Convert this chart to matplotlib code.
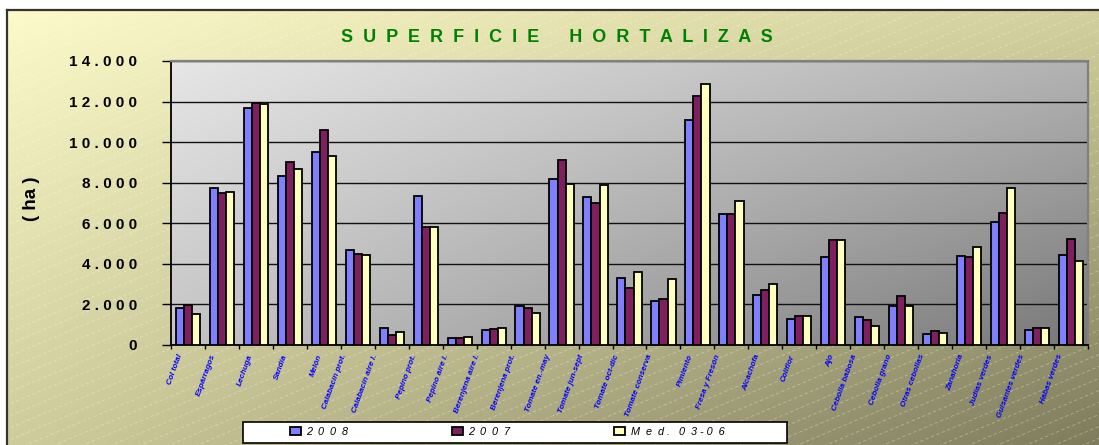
import numpy as np
import matplotlib
matplotlib.use("Agg")
import matplotlib.pyplot as plt
from matplotlib.patches import Rectangle

plt.rcParams['font.family'] = ['Liberation Sans', 'DejaVu Sans']

categorias = ['Col total', 'Espárragos', 'Lechuga', 'Sandía', 'Melón',
              'Calabacín prot.', 'Calabacín aire l.', 'Pepino prot.',
              'Pepino aire l.', 'Berenjena aire l.', 'Berenjena prot.',
              'Tomate en.-may', 'Tomate jun-sept', 'Tomate oct-dic',
              'Tomate conserva', 'Pimiento', 'Fresa y Fresón', 'Alcachofa',
              'Coliflor', 'Ajo', 'Cebolla babosa', 'Cebolla grano',
              'Otras cebollas', 'Zanahoria', 'Judías verdes',
              'Guisantes verdes', 'Habas verdes']

sup_2008 = [1800, 7730, 11670, 8320, 9530, 4700, 820, 7330, 330, 720, 1910,
            8170, 7290, 3290, 2180, 11080, 6470, 2460, 1290, 4350, 1360,
            1910, 540, 4390, 6060, 720, 4420]
sup_2007 = [1960, 7500, 11920, 9040, 10590, 4500, 490, 5810, 330, 770, 1820,
            9120, 7010, 2830, 2260, 12290, 6480, 2730, 1410, 5190, 1240,
            2410, 670, 4340, 6530, 850, 5210]
sup_med = [1520, 7560, 11870, 8690, 9300, 4420, 650, 5810, 380, 820, 1600,
           7960, 7890, 3600, 3260, 12880, 7120, 3030, 1420, 5190, 950,
           1930, 570, 4810, 7760, 850, 4130]

series = ['2  0  0  8', '2  0  0  7', 'M  e  d .   0  3 - 0  6']
colores = ['#8080FF', '#7F1F5F', '#FFFFC0']
yticks = [0, 2000, 4000, 6000, 8000, 10000, 12000, 14000]

W, H = 1099, 445
fig = plt.figure(figsize=(W / 100, H / 100), dpi=100)
fig.patch.set_facecolor('white')


def gradiente(c_tl, c_tr, c_bl, c_br, n=200):
    c = [np.array(matplotlib.colors.to_rgb(x)) for x in (c_tl, c_tr, c_bl, c_br)]
    u = np.linspace(0, 1, n)[None, :, None]
    v = np.linspace(0, 1, n)[:, None, None]
    return (c[0] * (1 - u) * (1 - v) + c[1] * u * (1 - v)
            + c[2] * (1 - u) * v + c[3] * u * v)


# fondo del grafico
bg = fig.add_axes([0, 0, 1, 1], zorder=-10)
bg.set_xlim(0, W)
bg.set_ylim(H, 0)
bg.axis('off')
bg.imshow(gradiente('#FCFAC8', '#D2D09C', '#CFCC9C', '#7E7C5C'),
          extent=(7, W, H, 10), aspect='auto', interpolation='bicubic')
clip = Rectangle((7, 10), W - 7, H - 10, transform=bg.transData)
for c in range(0, 1800, 12):
    ln, = bg.plot([0, W], [c, c - 0.42 * W], color='white', lw=0.6,
                  ls=(0, (4, 3)), alpha=0.35)
    ln.set_clip_path(clip)
bg.plot([7, 7], [H, 10], color='#333333', lw=1.6)
bg.plot([7, W], [10, 10], color='#333333', lw=1.6)

ax = fig.add_axes([171 / W, 1 - 345 / H, (1088 - 171) / W, (345 - 61) / H])
ax.set_facecolor('none')
n = len(categorias)
ax.imshow(gradiente('#E6E6E6', '#B2B2B2', '#C4C4C4', '#787878'),
          extent=(-0.5, n - 0.5, 0, 14000), aspect='auto', zorder=-1,
          interpolation='bicubic')

x = np.arange(n)
w = 0.238
for k, (vals, col, lab) in enumerate(zip([sup_2008, sup_2007, sup_med],
                                         colores, series)):
    ax.bar(x + (k - 1) * w, vals, w, color=col, edgecolor='black',
           linewidth=1.3, label=lab, zorder=3)

ax.set_xlim(-0.5, n - 0.5)
ax.set_ylim(0, 14000)
ax.set_yticks(yticks)
ax.set_yticklabels([' '.join(f'{v:,}'.replace(',', '.')) for v in yticks],
                   fontsize=11, fontweight='bold')
ax.tick_params(axis='y', length=6.5, width=1, direction='out', pad=18)
ax.yaxis.grid(True, color='#111111', lw=1)
ax.set_axisbelow(True)

ax.set_xticks([])
ax.set_xticks(np.arange(n + 1) - 0.5, minor=True)
ax.tick_params(axis='x', which='minor', length=3, width=1, direction='out')

for s in ('left', 'bottom'):
    ax.spines[s].set_color('black')
    ax.spines[s].set_linewidth(1.3)
for s in ('top', 'right'):
    ax.spines[s].set_color('#808080')
    ax.spines[s].set_linewidth(1.6)

trans = ax.get_xaxis_transform()
for i, lab in enumerate(categorias):
    off = (3 + 1.05 * len(lab)) / 34
    ax.text(i + 0.05 - off, -0.03, lab, transform=trans, rotation=70,
            ha='right', va='top', rotation_mode='anchor', fontsize=5.8,
            fontweight='bold', fontstyle='italic', color='#0000FF')

fig.text(557 / W, 1 - 37 / H,
         '  '.join('SUPERFICIE') + '      ' + '  '.join('HORTALIZAS'),
         ha='center', va='center', fontsize=13, fontweight='bold',
         color='#008000')
fig.text(31 / W, 1 - 199 / H, '( ha )', rotation=90, ha='center',
         va='center', fontsize=13.5, fontweight='bold')

# leyenda
fig.patches.append(Rectangle((243 / W, 2 / H), (787 - 243) / W, 21 / H,
                             transform=fig.transFigure, facecolor='white',
                             edgecolor='black', lw=1.2, zorder=5))
handles, labels = ax.get_legend_handles_labels()
leg = fig.legend(handles, labels, ncol=3, loc='center',
                 bbox_to_anchor=(507 / W, 1 - 432 / H), frameon=False,
                 prop={'size': 7.8, 'style': 'italic'}, handlelength=1.0,
                 handleheight=0.8, handletextpad=0.5, columnspacing=9.6)
leg.set_zorder(6)

fig.savefig('out.png', dpi=100)
